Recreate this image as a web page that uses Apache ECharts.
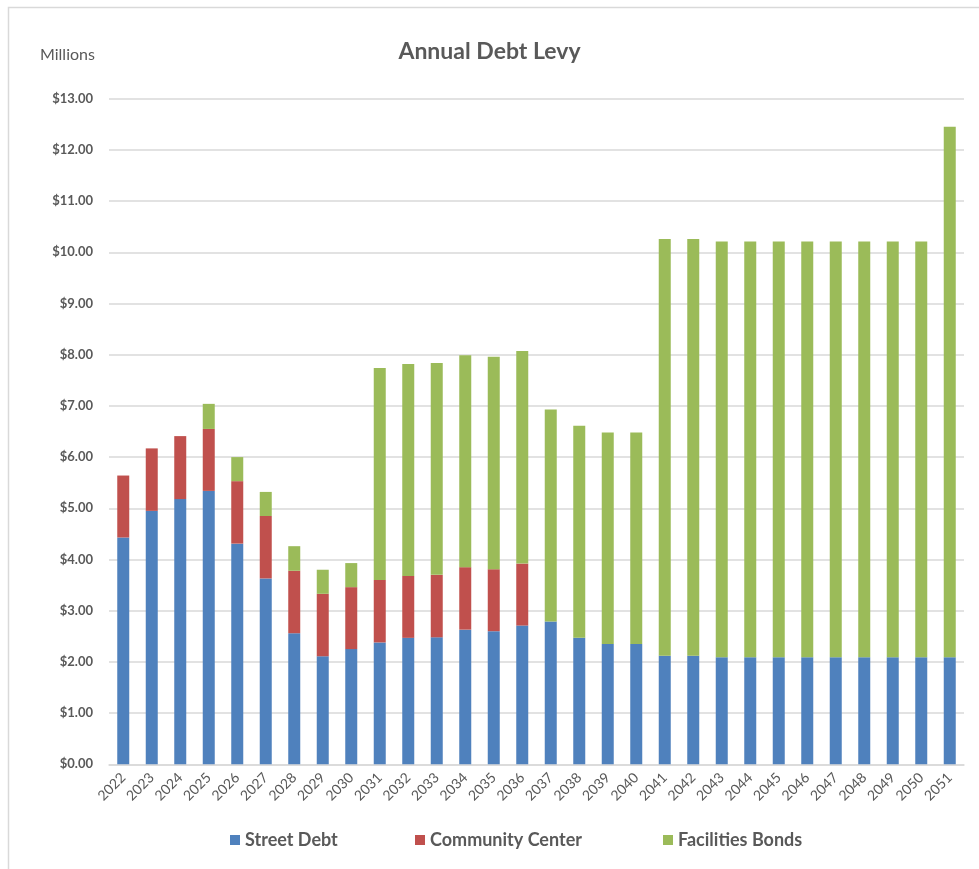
<!DOCTYPE html>
<html>
<head>
<meta charset="utf-8">
<script src="https://cdn.jsdelivr.net/npm/echarts@6/dist/echarts.min.js"></script>
<style>
html,body{margin:0;padding:0;background:#fff;}
#c{width:979px;height:869px;}
</style>
</head>
<body>
<div id="c"></div>
<script>
const years = ['2022','2023','2024','2025','2026','2027','2028','2029','2030','2031','2032','2033','2034','2035','2036','2037','2038','2039','2040','2041','2042','2043','2044','2045','2046','2047','2048','2049','2050','2051'];
const streetDebt = [4.43,4.95,5.18,5.34,4.31,3.63,2.56,2.11,2.25,2.38,2.47,2.48,2.63,2.60,2.71,2.79,2.47,2.35,2.35,2.12,2.12,2.09,2.09,2.09,2.09,2.09,2.09,2.09,2.09,2.09];
const communityCenter = [1.21,1.22,1.23,1.21,1.22,1.22,1.22,1.22,1.21,1.22,1.21,1.22,1.22,1.21,1.21,0,0,0,0,0,0,0,0,0,0,0,0,0,0,0];
const facilitiesBonds = [0,0,0,0.49,0.47,0.47,0.48,0.47,0.47,4.14,4.14,4.14,4.14,4.15,4.15,4.14,4.14,4.13,4.13,8.14,8.14,8.12,8.12,8.12,8.12,8.12,8.12,8.12,8.12,10.36];
const seriesNames = ['Street Debt','Community Center','Facilities Bonds'];
const colors = ['#4F81BD','#C0504D','#9BBB59'];
const FONT = 'Lato, "Open Sans", sans-serif';
const TXT = '#595959';

const chart = echarts.init(document.getElementById('c'), null, {renderer:'canvas'});
const mk = (name, data, i) => ({
  name, type:'bar', stack:'total', data, barWidth:12,
  itemStyle:{color:colors[i]}, emphasis:{disabled:true}
});
const legendLefts = [225, 410, 658];
const legendStyle = {fontFamily:FONT, fontSize:18, fontWeight:'bold', color:TXT};
chart.setOption({
  animation:false,
  backgroundColor:'#fff',
  title:{text:'Annual Debt Levy', left:'center', top:35,
    textStyle:{fontFamily:FONT, fontSize:23, fontWeight:'bold', color:TXT}},
  graphic:[
    {type:'polyline', shape:{points:[[8.5,869],[8.5,7.5],[979,7.5]]}, style:{fill:'none', stroke:'#D9D9D9', lineWidth:1.5}, silent:true},
    {type:'text', left:40, top:47, style:{text:'Millions', fontFamily:FONT, fontSize:16, fill:TXT}}
  ],
  legend: seriesNames.map((n, i) => ({
    data:[n], left:legendLefts[i], top:826, icon:'rect', itemWidth:10, itemHeight:10,
    textStyle:legendStyle
  })),
  grid:{left:109, right:15, top:98.7, bottom:104.7, containLabel:false},
  xAxis:{
    type:'category', data:years,
    axisLine:{lineStyle:{color:'#D9D9D9', width:1.5}},
    axisTick:{show:false},
    axisLabel:{rotate:45, fontFamily:FONT, fontSize:14, color:TXT, margin:11, interval:0}
  },
  yAxis:{
    type:'value', min:0, max:13, interval:1,
    axisLine:{show:false}, axisTick:{show:false},
    splitLine:{lineStyle:{color:'#D9D9D9', width:1.5}},
    axisLabel:{formatter:v=>'$'+v.toFixed(2), fontFamily:FONT, fontSize:13, fontWeight:'bold', color:TXT, margin:16}
  },
  series:[mk(seriesNames[0], streetDebt, 0), mk(seriesNames[1], communityCenter, 1), mk(seriesNames[2], facilitiesBonds, 2)]
});
</script>
</body>
</html>
